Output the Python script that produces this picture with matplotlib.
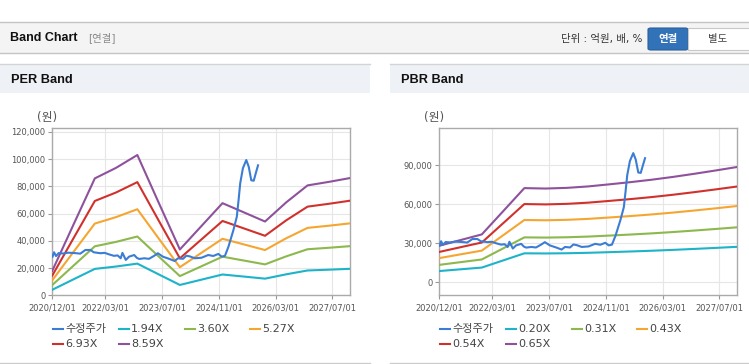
import matplotlib
matplotlib.use("Agg")
import matplotlib.pyplot as plt
from matplotlib.lines import Line2D
from matplotlib.patches import Rectangle, FancyBboxPatch
from matplotlib.ticker import FuncFormatter
import pandas as pd

W, H = 749, 364

# band dates (both charts)
BAND_DATES = ["2020-12-01", "2021-06-01", "2021-12-01", "2022-06-01", "2022-12-01",
              "2023-06-01", "2023-12-01", "2024-06-01", "2024-12-01", "2025-06-01",
              "2025-12-01", "2026-06-01", "2026-12-01", "2027-06-01", "2027-12-01"]

PER_LABELS = ["1.94X", "3.60X", "5.27X", "6.93X", "8.59X"]
PER_194 = [4074, 11737, 19400, 21146, 23280, 15423, 7605, 11446, 15287, 13774, 12241, 15423, 18236, 18818, 19458]
PER_360 = [7560, 21780, 36000, 39240, 43200, 28620, 14112, 21240, 28368, 25560, 22716, 28620, 33840, 34920, 36108]
PER_527 = [11067, 31884, 52700, 57443, 63240, 41897, 20658, 31093, 41528, 37417, 33254, 41897, 49538, 51119, 52858]
PER_693 = [14553, 41927, 69300, 75537, 83160, 55094, 27166, 40887, 54608, 49203, 43728, 55094, 65142, 67221, 69508]
PER_859 = [18039, 51970, 85900, 93631, 103080, 68291, 33673, 50681, 67689, 60989, 54203, 68291, 80746, 83323, 86158]

PBR_LABELS = ["0.20X", "0.31X", "0.43X", "0.54X", "0.65X"]
PBR_020 = [8660, 10000, 11340, 16800, 22300, 22200, 22360, 22700, 23200, 23720, 24300, 24960, 25700, 26480, 27300]
PBR_031 = [13423, 15500, 17577, 26040, 34565, 34410, 34658, 35185, 35960, 36766, 37665, 38688, 39835, 41044, 42315]
PBR_043 = [18619, 21500, 24381, 36120, 47945, 47730, 48074, 48805, 49880, 50998, 52245, 53664, 55255, 56932, 58695]
PBR_054 = [23382, 27000, 30618, 45360, 60210, 59940, 60372, 61290, 62640, 64044, 65610, 67392, 69390, 71496, 73710]
PBR_065 = [28145, 32500, 36855, 54600, 72475, 72150, 72670, 73775, 75400, 77090, 78975, 81120, 83525, 86060, 88725]

# 수정주가 (adjusted price)
PRICE_DATES = ["2020-12-03", "2020-12-16", "2021-01-02", "2021-01-24", "2021-03-04", "2021-04-16",
               "2021-06-16", "2021-07-29", "2021-09-11", "2021-10-24", "2021-11-22", "2022-01-19",
               "2022-02-23", "2022-04-01", "2022-05-14", "2022-06-15", "2022-07-11", "2022-07-26",
               "2022-08-24", "2022-09-21", "2022-11-04", "2022-11-27", "2022-12-17", "2023-01-29",
               "2023-03-11", "2023-04-26", "2023-05-26", "2023-07-08", "2023-09-03", "2023-10-17",
               "2023-11-15", "2023-12-28", "2024-01-26", "2024-02-24", "2024-04-07", "2024-06-04",
               "2024-07-31", "2024-09-13", "2024-10-26", "2024-11-24", "2024-12-22", "2025-01-21",
               "2025-03-05", "2025-04-03", "2025-04-18", "2025-05-02", "2025-05-25", "2025-06-23",
               "2025-07-14", "2025-08-05", "2025-08-26", "2025-09-17", "2025-10-02"]
PRICE = [28400, 31600, 28800, 31000, 30700, 31300,
         31000, 30600, 33300, 33300, 31600, 30900,
         31200, 30100, 29000, 29300, 27200, 31200,
         26000, 28400, 29600, 27500, 26700, 27200,
         26800, 29100, 30900, 28400, 26700, 25200,
         27200, 26800, 29100, 28600, 27200, 27600,
         29600, 28900, 30400, 28400, 29000, 35700,
         48000, 57800, 70000, 82300, 93300, 99400,
         94500, 84500, 84200, 91000, 95500]

X_TICKS = ["2020-12-01", "2022-03-01", "2023-07-01", "2024-11-01", "2026-03-01", "2027-07-01"]
X_LABELS = ["2020/12/01", "2022/03/01", "2023/07/01", "2024/11/01", "2026/03/01", "2027/07/01"]
PER_YTICKS = [0, 20000, 40000, 60000, 80000, 100000, 120000]
PBR_YTICKS = [0, 30000, 60000, 90000]

PRICE_LABEL = "수정주가"
COLORS = ["#3b7dd4", "#1db3c8", "#8cb84e", "#f5a631", "#d0312d", "#8e529c"]

KR = ["DejaVu Sans", "Noto Sans CJK KR"]


def fx(x):
    return x / W


def fy(y):
    return 1 - y / H


def panel(fig, x0, x1, title):
    fig.add_artist(Rectangle((fx(x0), fy(93)), fx(x1 - x0), 29 / H, transform=fig.transFigure,
                             facecolor="#eef1f6", edgecolor="none", zorder=0))
    fig.add_artist(Line2D([fx(x0), fx(x1)], [fy(64), fy(64)], transform=fig.transFigure,
                          color="#d4d4d4", lw=1))
    fig.add_artist(Line2D([fx(x0), fx(x1)], [fy(363), fy(363)], transform=fig.transFigure,
                          color="#cccccc", lw=1))
    fig.text(fx(x0 + 11), fy(80), title, fontsize=9.2, fontweight="bold",
             family="Liberation Sans", va="center", ha="left", color="#111")


def band_axes(fig, left, ylim, yticks, dates, series, labels, ylabel_x):
    ax = fig.add_axes([fx(left), fy(295.3), fx(298), 167 / H])
    bd = pd.to_datetime(dates)
    for vals, c in zip(series, COLORS[1:]):
        ax.plot(bd, vals, color=c, lw=1.5, zorder=3)
    ax.plot(pd.to_datetime(PRICE_DATES), PRICE, color=COLORS[0], lw=1.5, zorder=4)
    ax.set_xlim(pd.Timestamp("2020-12-01"), pd.Timestamp("2027-12-03"))
    ax.set_ylim(*ylim)
    ax.set_xticks(pd.to_datetime(X_TICKS))
    ax.set_xticklabels(X_LABELS)
    ax.set_yticks(yticks)
    ax.yaxis.set_major_formatter(FuncFormatter(lambda v, p: f"{int(v):,}"))
    ax.tick_params(labelsize=6, labelcolor="#555555", color="#999999", length=3, width=0.8, pad=2)
    ax.tick_params(axis="x", pad=3)
    ax.grid(True, color="#e6e6e6", lw=0.8)
    ax.set_axisbelow(True)
    for s in ax.spines.values():
        s.set_color("#aaaaaa")
        s.set_linewidth(1)
    ax.set_facecolor("white")
    fig.text(fx(ylabel_x), fy(118), "(원)", fontsize=8.5, family=KR, color="#555",
             ha="center", va="center")

    # legend
    lx = left + 1
    items = [(PRICE_LABEL, COLORS[0])] + list(zip(labels, COLORS[1:]))
    cols = [0, 65.5, 131.5, 197]
    for i, (lab, c) in enumerate(items):
        row, col = divmod(i, 4)
        x = lx + cols[col]
        y = 329 + row * 15
        fig.add_artist(Line2D([fx(x), fx(x + 10)], [fy(y), fy(y)], transform=fig.transFigure,
                              color=c, lw=1.5))
        fig.text(fx(x + 12), fy(y), lab, fontsize=8, family=KR, color="#444",
                 ha="left", va="center")
    return ax


fig = plt.figure(figsize=(W / 100, H / 100), dpi=100)
fig.patch.set_facecolor("white")

# header bar
fig.add_artist(Rectangle((0, fy(53)), 1, 31 / H, transform=fig.transFigure,
                         facecolor="#f4f4f4", edgecolor="none", zorder=0))
fig.add_artist(Line2D([0, 1], [fy(22), fy(22)], transform=fig.transFigure, color="#c4c4c4", lw=1))
fig.add_artist(Line2D([0, 1], [fy(53), fy(53)], transform=fig.transFigure, color="#c4c4c4", lw=1))
fig.text(fx(10), fy(38), "Band Chart", fontsize=9, fontweight="bold", family="Liberation Sans",
         va="center", color="#111")
fig.text(fx(88), fy(38), "[연결]", fontsize=7.5, family=KR, va="center", color="#8a8a8a")
fig.text(fx(642), fy(39), "단위 : 억원, 배, %", fontsize=7.5, family=KR, va="center", ha="right",
         color="#333")
fig.add_artist(FancyBboxPatch((fx(648), fy(50)), fx(40), 22 / H, transform=fig.transFigure,
                              boxstyle="round,pad=0,rounding_size=0.004",
                              facecolor="#3172b8", edgecolor="#2a609c", lw=0.8))
fig.text(fx(668), fy(39), "연결", fontsize=7.5, family=KR, fontweight="bold", va="center",
         ha="center", color="white")
fig.add_artist(Rectangle((fx(688), fy(50)), fx(65), 22 / H, transform=fig.transFigure,
                         facecolor="white", edgecolor="#c8c8c8", lw=0.8))
fig.text(fx(718), fy(39), "별도", fontsize=7.5, family=KR, va="center", ha="center", color="#444")

panel(fig, 0, 370, "PER Band")
panel(fig, 390, 749, "PBR Band")

band_axes(fig, 52.3, (0, 122700), PER_YTICKS, BAND_DATES,
          [PER_194, PER_360, PER_527, PER_693, PER_859], PER_LABELS, 47)
band_axes(fig, 439.3, (-10000, 118500), PBR_YTICKS, BAND_DATES,
          [PBR_020, PBR_031, PBR_043, PBR_054, PBR_065], PBR_LABELS, 434)

fig.savefig("out.png", dpi=100, facecolor="white")
